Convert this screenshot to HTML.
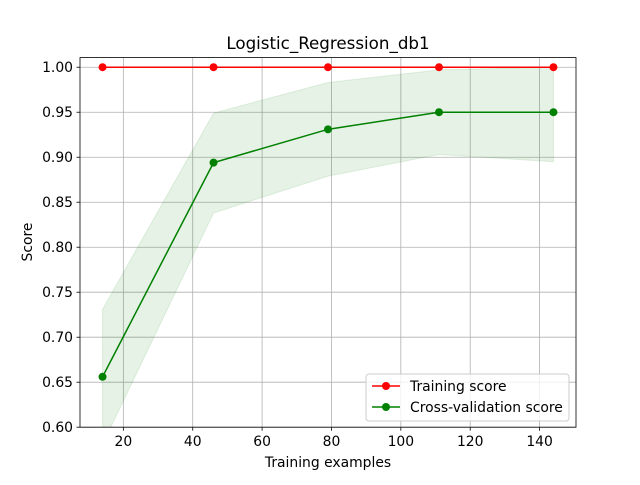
<!DOCTYPE html>
<html><head><meta charset="utf-8"><style>body{margin:0;background:#fff}svg text{font-family:"DejaVu Sans","Liberation Sans",sans-serif}</style></head>
<body>
<svg id="c" width="640" height="480"></svg>
<script>
const trainSizes=[14,46,79,111,144];
const trainMean=[1.0,1.0,1.0,1.0,1.0];
const trainStd=[0,0,0,0,0];
const cvMean=[0.656,0.894,0.931,0.950,0.950];
const cvUpper=[0.731,0.949,0.983,0.997,1.0];
const cvLower=[0.581,0.838,0.879,0.903,0.895];
const xTicks=[20,40,60,80,100,120,140];
const yTicks=[0.60,0.65,0.70,0.75,0.80,0.85,0.90,0.95,1.00];
const L=80,R=576,T=57.6,B=427.2,x0=7.5,x1=150.5,y0=0.6,y1=1.0107;
const sx=v=>L+(v-x0)/(x1-x0)*(R-L), sy=v=>B-(v-y0)/(y1-y0)*(B-T);
const svg=document.getElementById('c'),NS='http://www.w3.org/2000/svg';
function mk(t,a,p){const e=document.createElementNS(NS,t);for(const k in a)e.setAttribute(k,a[k]);(p||svg).appendChild(e);return e;}
const clip=mk('clipPath',{id:'cp'});mk('rect',{x:L,y:T,width:R-L,height:B-T},clip);
xTicks.forEach(v=>{const x=sx(v);
const g=mk('line',{x1:x,x2:x,y1:T,y2:B,stroke:'#b0b0b0','stroke-width':0.8});

mk('line',{x1:x,x2:x,y1:B,y2:B+3.5,stroke:'#000','stroke-width':0.8});
const t=mk('text',{x:x,y:B+19,'text-anchor':'middle','font-size':13.9});t.textContent=v;
});
yTicks.forEach(v=>{const y=sy(v);
const g=mk('line',{x1:L,x2:R,y1:y,y2:y,stroke:'#b0b0b0','stroke-width':0.8});

mk('line',{x1:L-3.5,x2:L,y1:y,y2:y,stroke:'#000','stroke-width':0.8});
const t=mk('text',{x:L-7,y:y+5,'text-anchor':'end','font-size':13.9});t.textContent=v.toFixed(2);
});
const gp=mk('g',{'clip-path':'url(#cp)'});
function band(up,lo,col,name){let d='M'+trainSizes.map((s,i)=>sx(s)+','+sy(up[i])).join('L');
for(let i=trainSizes.length-1;i>=0;i--)d+='L'+sx(trainSizes[i])+','+sy(lo[i]);
const p=mk('path',{d:d+'Z',fill:col,'fill-opacity':0.1,stroke:col,'stroke-opacity':0.1},gp);
}
band(trainMean.map((m,i)=>m+trainStd[i]),trainMean.map((m,i)=>m-trainStd[i]),'#ff0000','training-score-band');
band(cvUpper,cvLower,'#008000','cv-score-band');
function series(vals,col,name){const p=mk('polyline',{points:trainSizes.map((s,i)=>sx(s)+','+sy(vals[i])).join(' '),fill:'none',stroke:col,'stroke-width':1.5},gp);

trainSizes.forEach((s,i)=>{const c=mk('circle',{cx:sx(s),cy:sy(vals[i]),r:4,fill:col},svg);
});}
series(trainMean,'#ff0000','training-score');
series(cvMean,'#008000','cv-score');
mk('rect',{x:L,y:T,width:R-L,height:B-T,fill:'none',stroke:'#000','stroke-width':0.8});
let t=mk('text',{x:328,y:49,'text-anchor':'middle','font-size':16.7});t.textContent='Logistic_Regression_db1';

t=mk('text',{x:328,y:467,'text-anchor':'middle','font-size':13.9});t.textContent='Training examples';

t=mk('text',{x:32,y:242,'text-anchor':'middle','font-size':13.9,transform:'rotate(-90 32 242)'});t.textContent='Score';

const lg=mk('g',{});
mk('rect',{x:366,y:374,width:203,height:47,rx:3,fill:'#fff','fill-opacity':0.8,stroke:'#ccc'},lg);
[['Training score','#ff0000',386],['Cross-validation score','#008000',407]].forEach(([lab,col,y])=>{
mk('line',{x1:372,x2:400,y1:y,y2:y,stroke:col,'stroke-width':1.5},lg);
mk('circle',{cx:386,cy:y,r:4,fill:col},lg);
const tt=mk('text',{x:410,y:y+5,'font-size':13.9},lg);tt.textContent=lab;
});
</script>
</body></html>
